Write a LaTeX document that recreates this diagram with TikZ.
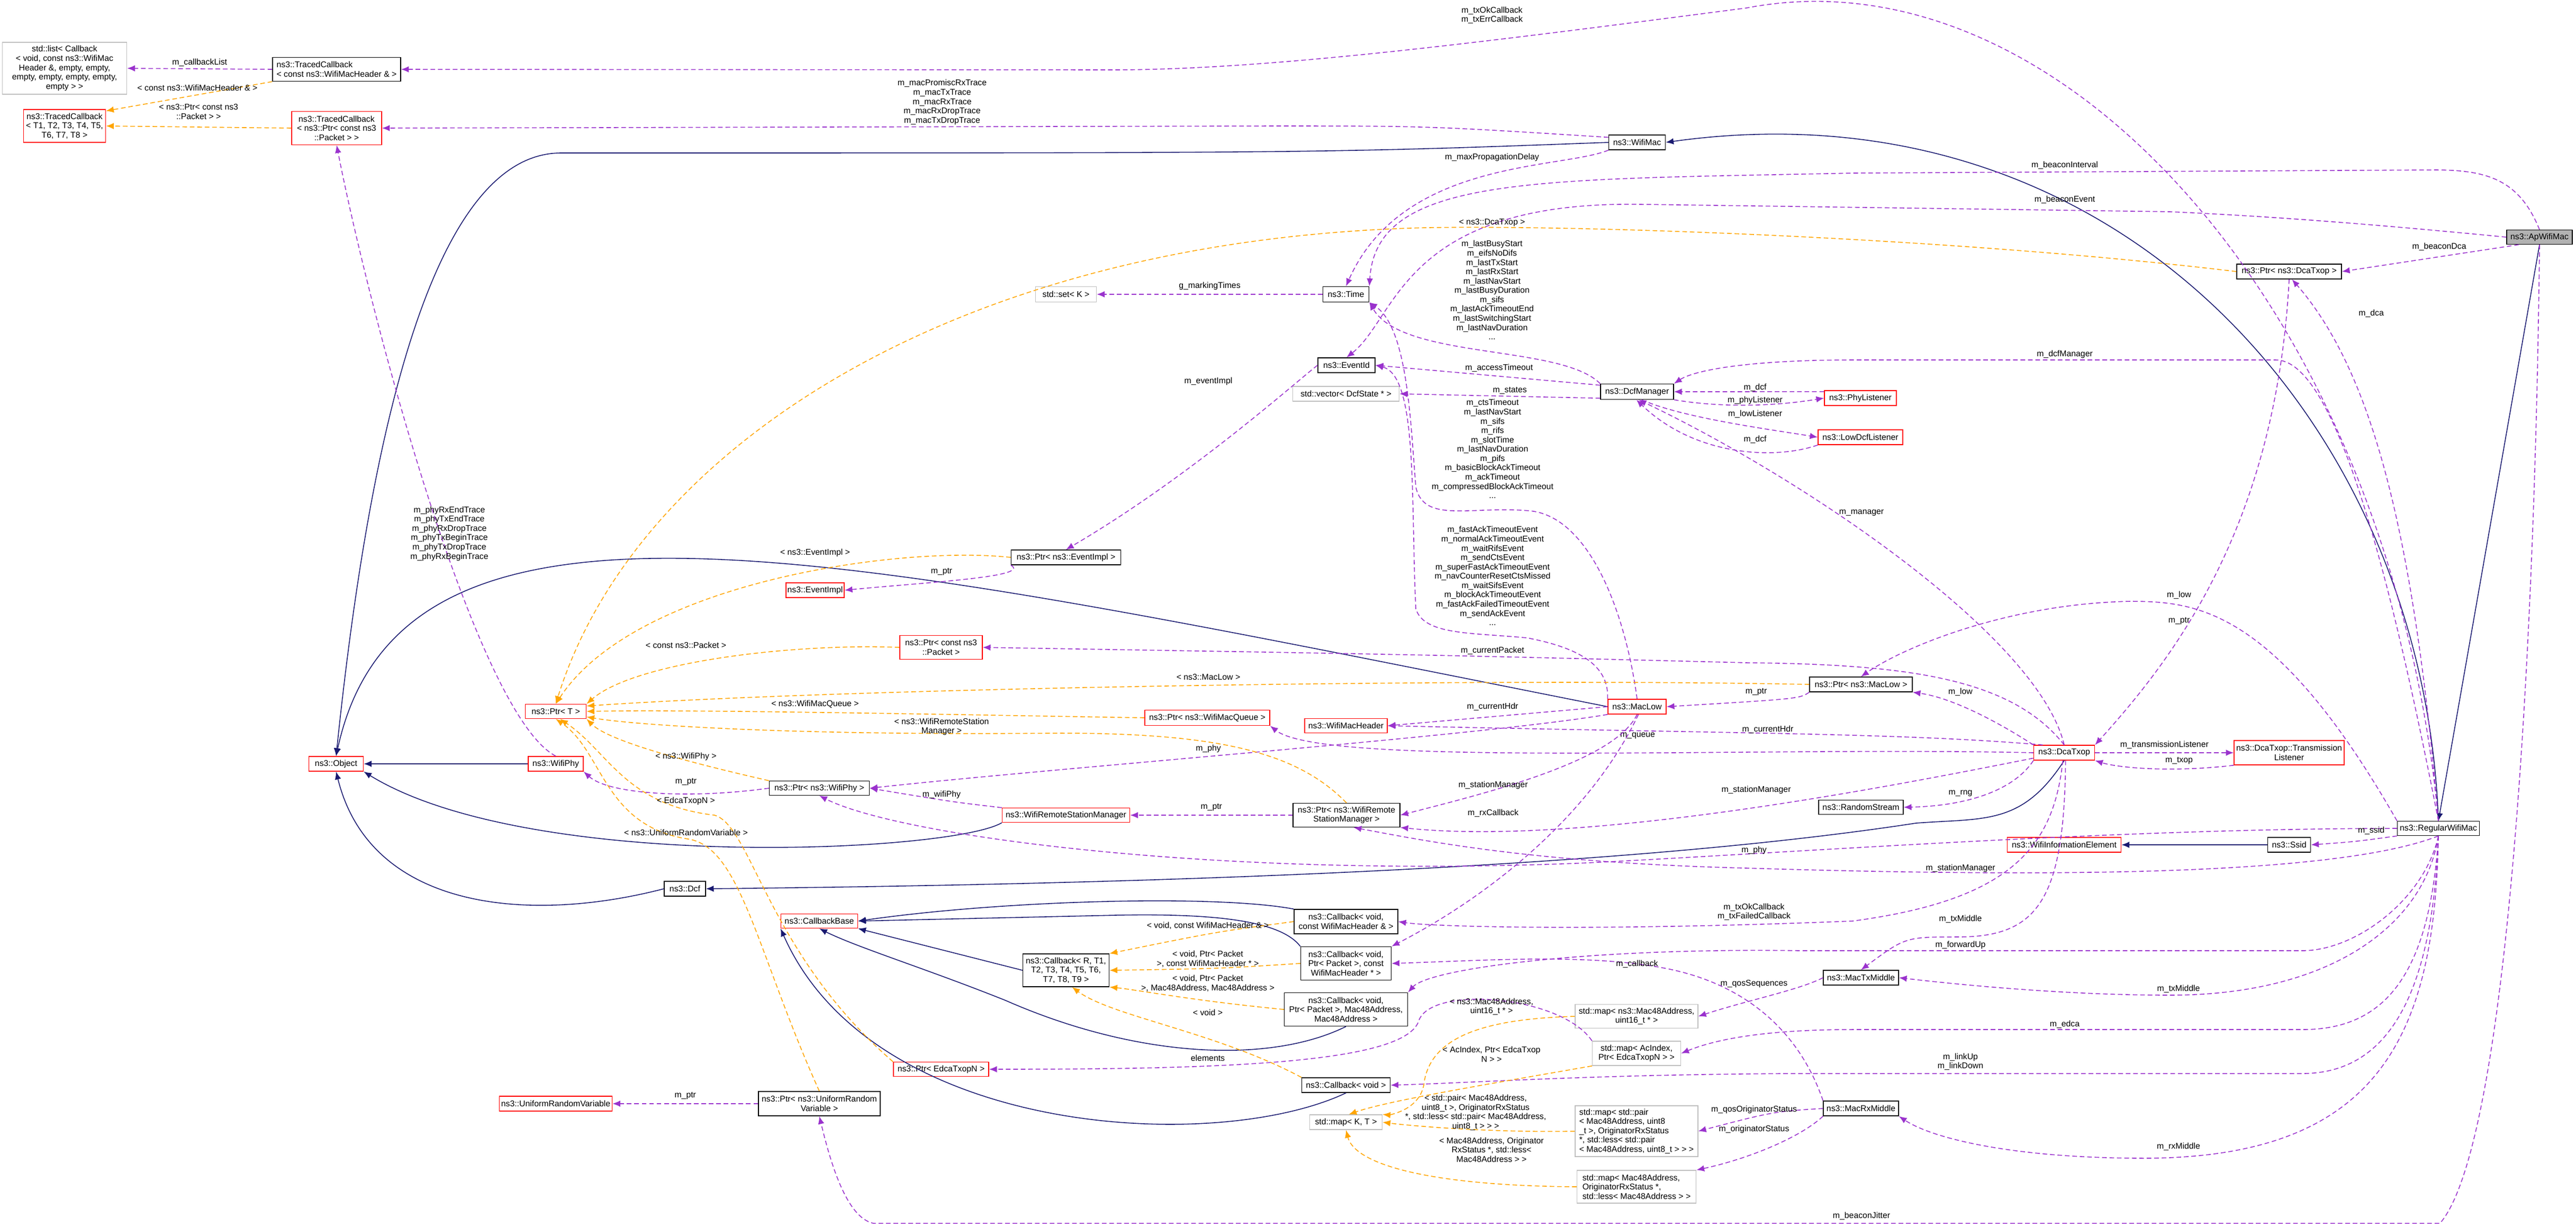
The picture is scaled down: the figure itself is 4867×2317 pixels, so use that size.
\documentclass[tikz,border=0pt]{standalone}
\usepackage{fontspec}
\setmainfont{Liberation Sans}
\usetikzlibrary{arrows.meta}
\definecolor{purp}{HTML}{9A32CD}
\definecolor{navy}{HTML}{191970}
\definecolor{orng}{HTML}{FFA500}
\definecolor{gbord}{HTML}{BFBFBF}
\tikzset{
  sz/.style 2 args={minimum width=#1*0.01cm, minimum height=#2*0.01cm},
  box/.style={draw=black, fill=white, inner sep=0.5pt, align=center, line width=0.4pt},
  rbox/.style={box, draw=red},
  gbox/.style={box, draw=gbord},
  lbl/.style={inner sep=0pt, align=center},
  use/.style={draw=purp, line width=0.45pt, dash pattern=on 2.5pt off 1.5pt, -{Latex[length=4.2pt,width=3.4pt]}},
  tmpl/.style={draw=orng, line width=0.45pt, dash pattern=on 2.5pt off 1.5pt, -{Latex[length=4.2pt,width=3.4pt]}},
  inh/.style={draw=navy, line width=0.45pt, -{Latex[length=4.2pt,width=3.4pt]}}}
\begin{document}
\begin{tikzpicture}[x=0.01cm,y=-0.01cm,
  every node/.style={font=\fontsize{4.5}{5.0}\selectfont}]
\useasboundingbox (0,0) rectangle (4867,2317);
% nodes
\node[gbox,sz={235}{98}] (stdlist) at (122,129) {std::list< Callback\\< void, const ns3::WifiMac\\Header \&, empty, empty,\\empty, empty, empty, empty,\\empty > >};
\node[box,sz={242}{45},align=left] (TCwmh) at (636,131) {ns3::TracedCallback\\< const ns3::WifiMacHeader \& >};
\node[rbox,sz={155}{62}] (TCgen) at (122,238) {ns3::TracedCallback\\< T1, T2, T3, T4, T5,\\T6, T7, T8 >};
\node[rbox,sz={170}{63}] (TCpkt) at (636,242) {ns3::TracedCallback\\< ns3::Ptr< const ns3\\::Packet > >};
\node[box,sz={107}{28}] (WifiMac) at (3093,269) {ns3::WifiMac};
\node[box,sz={124}{27},fill=gray!60] (Ap) at (4798,448) {ns3::ApWifiMac};
\node[box,sz={198}{28}] (PtrDca) at (4325,513) {ns3::Ptr< ns3::DcaTxop >};
\node[gbox,sz={115}{29}] (stdset) at (2014,556) {std::set< K >};
\node[box,sz={87}{29}] (Time) at (2543,556) {ns3::Time};
\node[box,sz={108}{28}] (EventId) at (2544,690) {ns3::EventId};
\node[gbox,sz={201}{28}] (stdvec) at (2543,744) {std::vector< DcfState * >};
\node[box,sz={138}{29}] (Dcfm) at (3093,740) {ns3::DcfManager};
\node[rbox,sz={136}{28}] (PhyL) at (3515,752) {ns3::PhyListener};
\node[rbox,sz={160}{28}] (LowL) at (3515,826) {ns3::LowDcfListener};
\node[box,sz={207}{28}] (PtrEI) at (2014,1053) {ns3::Ptr< ns3::EventImpl >};
\node[rbox,sz={110}{28}] (EI) at (1540,1115) {ns3::EventImpl};
\node[rbox,sz={156}{45}] (PtrCP) at (1778,1223) {ns3::Ptr< const ns3\\::Packet >};
\node[box,sz={194}{28}] (PtrML) at (3516,1293) {ns3::Ptr< ns3::MacLow >};
\node[rbox,sz={110}{28}] (MacLow) at (3093,1335) {ns3::MacLow};
\node[rbox,sz={115}{27}] (PtrT) at (1050,1344) {ns3::Ptr< T >};
\node[rbox,sz={236}{29}] (PtrQ) at (2281,1356) {ns3::Ptr< ns3::WifiMacQueue >};
\node[rbox,sz={156}{27}] (Hdr) at (2543,1371) {ns3::WifiMacHeader};
\node[rbox,sz={115}{28}] (Dca) at (3900,1422) {ns3::DcaTxop};
\node[rbox,sz={208}{46}] (DcaTL) at (4325,1422) {ns3::DcaTxop::Transmission\\Listener};
\node[rbox,sz={103}{28}] (Obj) at (635,1443) {ns3::Object};
\node[rbox,sz={104}{28}] (Phy) at (1050,1443) {ns3::WifiPhy};
\node[box,sz={189}{27}] (PtrPhy) at (1548,1489) {ns3::Ptr< ns3::WifiPhy >};
\node[box,sz={160}{27}] (RS) at (3516,1525) {ns3::RandomStream};
\node[rbox,sz={241}{27}] (WRSM) at (2014,1540) {ns3::WifiRemoteStationManager};
\node[box,sz={202}{45}] (PtrWRSM) at (2544,1540) {ns3::Ptr< ns3::WifiRemote\\StationManager >};
\node[box,sz={155}{27}] (Reg) at (4607,1565) {ns3::RegularWifiMac};
\node[rbox,sz={215}{28}] (WIE) at (3900,1596) {ns3::WifiInformationElement};
\node[box,sz={81}{28}] (Ssid) at (4325,1596) {ns3::Ssid};
\node[box,sz={78}{28}] (Dcf) at (1294,1679) {ns3::Dcf};
\node[rbox,sz={145}{27}] (CB) at (1548,1740) {ns3::CallbackBase};
\node[box,sz={196}{46}] (CbWmh) at (2543,1741) {ns3::Callback< void,\\const WifiMacHeader \& >};
\node[box,sz={171}{63}] (CbPkt) at (2543,1820) {ns3::Callback< void,\\Ptr< Packet >, const\\WifiMacHeader * >};
\node[box,sz={163}{62}] (CbR) at (2014,1833) {ns3::Callback< R, T1,\\T2, T3, T4, T5, T6,\\T7, T8, T9 >};
\node[box,sz={142}{28}] (TxM) at (3516,1847) {ns3::MacTxMiddle};
\node[box,sz={233}{63}] (CbMac) at (2543,1907) {ns3::Callback< void,\\Ptr< Packet >, Mac48Address,\\Mac48Address >};
\node[gbox,sz={232}{45}] (mapU) at (3092,1920) {std::map< ns3::Mac48Address,\\uint16\_t * >};
\node[gbox,sz={167}{46}] (mapAc) at (3092,1990) {std::map< AcIndex,\\Ptr< EdcaTxopN > >};
\node[rbox,sz={180}{27}] (PtrE) at (1778,2020) {ns3::Ptr< EdcaTxopN >};
\node[box,sz={167}{28}] (CbV) at (2543,2050) {ns3::Callback< void >};
\node[box,sz={230}{46}] (PtrURV) at (1548,2085) {ns3::Ptr< ns3::UniformRandom\\Variable >};
\node[rbox,sz={213}{28}] (URV) at (1050,2085) {ns3::UniformRandomVariable};
\node[box,sz={142}{28}] (RxM) at (3516,2094) {ns3::MacRxMiddle};
\node[gbox,sz={137}{28}] (mapKT) at (2543,2120) {std::map< K, T >};
\node[gbox,sz={232}{96},align=left] (mapP) at (3092,2137) {std::map< std::pair\\< Mac48Address, uint8\\\_t >, OriginatorRxStatus\\*, std::less< std::pair\\< Mac48Address, uint8\_t > > >};
\node[gbox,sz={225}{62},align=left] (mapO) at (3092,2242) {std::map< Mac48Address,\\OriginatorRxStatus *,\\std::less< Mac48Address > >};
% inheritance
\draw[inh] (WifiMac.west) .. controls (2500,289) .. (1060,289) .. controls (800,289) and (690,900) .. (Obj.north);
\draw[inh] (Reg.north) .. controls (4580,800) and (4000,150) .. (WifiMac.east);
\draw[inh] (Ap.south) -- (Reg.north);
\draw[inh] (Phy.west) -- (Obj.east);
\draw[inh] (WRSM.south west) .. controls (1800,1610) and (1000,1650) .. (Obj.south east);
\draw[inh] (MacLow.west) .. controls (1600,1050) and (760,850) .. (Obj.north);
\draw[inh] (Dcf.west) .. controls (1000,1745) and (700,1720) .. (Obj.south);
\draw[inh] (Dca.south) .. controls (3820,1560) and (3750,1545) .. (3620,1555) .. controls (3000,1650) and (2000,1672) .. (Dcf.east);
\draw[inh] (Ssid.west) -- (WIE.east);
\draw[inh] (CbWmh.north west) .. controls (2300,1690) and (1900,1700) .. (CB.east);
\draw[inh] (CbPkt.north west) .. controls (2420,1740) and (2300,1725) .. (2106,1729) -- (CB.east);
\draw[inh] (CbR.west) -- (CB.south east);
\draw[inh] (CbMac.south) .. controls (2400,2010) and (2150,2000) .. (1900,1890) .. controls (1750,1830) and (1620,1790) .. (CB.south);
\draw[inh] (CbV.south) .. controls (2300,2180) and (1650,2150) .. (CB.south west);
% usage top
\draw[use] (TCwmh.west) -- node[lbl,above=1pt]{m\_callbackList} (stdlist.east);
\draw[tmpl] (TCwmh.south west) -- node[lbl,above=2pt,pos=0.45]{< const ns3::WifiMacHeader \& >} (TCgen.20);
\draw[tmpl] (TCpkt.west) -- node[lbl,above=4pt]{< ns3::Ptr< const ns3\\::Packet > >} (TCgen.east);
\draw[use] (Reg.north) .. controls (4520,600) and (3900,-100) .. (3300,15) .. controls (2800,80) and (2400,132) .. (2100,132) -- (TCwmh.east);
\node[lbl] at (2819,29) {m\_txOkCallback\\m\_txErrCallback};
\draw[use] (WifiMac.170) .. controls (2700,238) .. (2400,238) -- (TCpkt.east);
\node[lbl] at (1780,193) {m\_macPromiscRxTrace\\m\_macTxTrace\\m\_macRxTrace\\m\_macRxDropTrace\\m\_macTxDropTrace};
\draw[use] (Phy.north) .. controls (900,1350) and (700,600) .. (TCpkt.south);
\node[lbl] at (849,1008) {m\_phyRxEndTrace\\m\_phyTxEndTrace\\m\_phyRxDropTrace\\m\_phyTxBeginTrace\\m\_phyTxDropTrace\\m\_phyRxBeginTrace};
\draw[use] (WifiMac.south west) .. controls (2950,320) and (2650,300) .. (Time.north);
\node[lbl] at (2819,297) {m\_maxPropagationDelay};
\draw[use] (Ap.north) .. controls (4760,340) and (4700,321) .. (4600,321) -- (3500,327) .. controls (2900,340) and (2600,330) .. (Time.north east);
\node[lbl] at (3901,312) {m\_beaconInterval};
\draw[use] (Ap.west) .. controls (4500,425) and (4300,409) .. (4100,400) -- (3100,386) .. controls (2650,379) and (2640,600) .. (EventId.north);
\node[lbl] at (3901,377) {m\_beaconEvent};
\draw[use] (Ap.200) -- node[lbl,above=3pt,pos=0.45]{m\_beaconDca} (PtrDca.east);
\draw[tmpl] (PtrDca.west) .. controls (3700,450) and (3000,425) .. (2700,430) .. controls (1800,450) and (1200,850) .. (PtrT.north);
\node[lbl] at (2819,421) {< ns3::DcaTxop >};
\draw[use] (Reg.north) .. controls (4560,1000) and (4480,700) .. (PtrDca.-70);
\node[lbl] at (4480,592) {m\_dca};
\draw[use] (PtrDca.south) .. controls (4300,1000) and (4100,1250) .. (Dca.north east);
\node[lbl] at (4117,1173) {m\_ptr};
\draw[use] (Time.west) -- node[lbl,above=2pt]{g\_markingTimes} (stdset.east);
\draw[use] (Dcfm.north west) .. controls (2950,650) and (2650,680) .. (Time.south east);
\node[lbl] at (2819,548) {m\_lastBusyStart\\m\_eifsNoDifs\\m\_lastTxStart\\m\_lastRxStart\\m\_lastNavStart\\m\_lastBusyDuration\\m\_sifs\\m\_lastAckTimeoutEnd\\m\_lastSwitchingStart\\m\_lastNavDuration\\...};
\draw[use] (Dcfm.170) -- node[lbl,above=2pt,pos=0.45]{m\_accessTimeout} (EventId.east);
\draw[use] (Dcfm.190) -- node[lbl,above=1pt,pos=0.45]{m\_states} (stdvec.east);
\draw[use] (MacLow.north) .. controls (3070,1150) and (3000,975) .. (2890,965) .. controls (2780,955) and (2690,990) .. (2675,920) .. controls (2665,800) and (2660,620) .. (Time.south east);
\node[lbl] at (2820,848) {m\_ctsTimeout\\m\_lastNavStart\\m\_sifs\\m\_rifs\\m\_slotTime\\m\_lastNavDuration\\m\_pifs\\m\_basicBlockAckTimeout\\m\_ackTimeout\\m\_compressedBlockAckTimeout\\...};
\draw[use] (MacLow.north west) .. controls (3040,1260) and (2990,1225) .. (2885,1205) .. controls (2780,1195) and (2690,1200) .. (2675,1150) .. controls (2665,950) and (2680,710) .. (EventId.east);
\node[lbl] at (2820,1088) {m\_fastAckTimeoutEvent\\m\_normalAckTimeoutEvent\\m\_waitRifsEvent\\m\_sendCtsEvent\\m\_superFastAckTimeoutEvent\\m\_navCounterResetCtsMissed\\m\_waitSifsEvent\\m\_blockAckTimeoutEvent\\m\_fastAckFailedTimeoutEvent\\m\_sendAckEvent\\...};
\draw[use] (EventId.west) .. controls (2450,720) and (2250,900) .. (PtrEI.north);
\node[lbl] at (2283,720) {m\_eventImpl};
\draw[use] (PtrEI.south west) .. controls (1950,1090) and (1750,1100) .. (EI.east);
\node[lbl] at (1779,1080) {m\_ptr};
\draw[tmpl] (PtrEI.west) .. controls (1700,1030) and (1200,1100) .. (PtrT.north);
\node[lbl] at (1540,1044) {< ns3::EventImpl >};
\draw[use] (Reg.north) .. controls (4500,1000) and (4400,680) .. (4300,680) -- (3500,680) .. controls (3300,680) and (3200,700) .. (Dcfm.north east);
\node[lbl] at (3901,669) {m\_dcfManager};
\draw[use] (PhyL.170) -- (Dcfm.east);
\node[lbl] at (3316,732) {m\_dcf};
\draw[use] (Dcfm.south east) .. controls (3250,770) and (3350,768) .. (PhyL.west);
\node[lbl] at (3316,756) {m\_phyListener};
\draw[use] (Dcfm.-60) .. controls (3180,790) and (3350,812) .. (LowL.west);
\node[lbl] at (3316,782) {m\_lowListener};
\draw[use] (LowL.south west) .. controls (3350,870) and (3200,860) .. (Dcfm.-95);
\node[lbl] at (3316,830) {m\_dcf};
\draw[use] (Dca.north) .. controls (3850,1200) and (3400,900) .. (Dcfm.-80);
\node[lbl] at (3517,969) {m\_manager};
\draw[use] (Reg.north west) .. controls (4300,1150) and (4150,1136) .. (4025,1136) .. controls (3800,1140) and (3600,1220) .. (PtrML.north);
\node[lbl] at (4117,1124) {m\_low};
\draw[use] (Dca.north west) .. controls (3800,1380) and (3700,1320) .. (PtrML.south east);
\node[lbl] at (3704,1307) {m\_low};
\draw[use] (PtrML.south west) .. controls (3400,1320) .. (MacLow.east);
\node[lbl] at (3318,1307) {m\_ptr};
\draw[tmpl] (PtrML.west) .. controls (2800,1280) and (1600,1300) .. (PtrT.10);
\node[lbl] at (2283,1279) {< ns3::MacLow >};
\draw[use] (Dca.north) .. controls (3800,1280) and (3600,1255) .. (3300,1252) .. controls (2700,1237) .. (PtrCP.east);
\node[lbl] at (2820,1229) {m\_currentPacket};
\draw[tmpl] (PtrCP.west) .. controls (1500,1215) and (1200,1250) .. (PtrT.north east);
\node[lbl] at (1296,1219) {< const ns3::Packet >};
\draw[use] (MacLow.west) -- (Hdr.east);
\node[lbl] at (2820,1335) {m\_currentHdr};
\draw[use] (Dca.160) .. controls (3600,1385) and (3300,1386) .. (Hdr.east);
\node[lbl] at (3340,1378) {m\_currentHdr};
\draw[use] (Dca.west) .. controls (3300,1410) and (2500,1450) .. (PtrQ.south east);
\node[lbl] at (3094,1390) {m\_queue};
\draw[tmpl] (PtrQ.west) .. controls (1800,1350) and (1300,1340) .. (PtrT.east);
\node[lbl] at (1540,1330) {< ns3::WifiMacQueue >};
\draw[use] (MacLow.south west) .. controls (2800,1390) and (2000,1450) .. (PtrPhy.east);
\node[lbl] at (2283,1414) {m\_phy};
\draw[use] (Reg.west) .. controls (4000,1565) and (3400,1610) .. (3000,1630) .. controls (2300,1660) and (1700,1580) .. (PtrPhy.south);
\node[lbl] at (3314,1606) {m\_phy};
\draw[tmpl] (PtrPhy.north west) .. controls (1300,1440) and (1150,1400) .. (PtrT.south east);
\node[lbl] at (1296,1429) {< ns3::WifiPhy >};
\draw[use] (PtrPhy.west) .. controls (1300,1510) and (1150,1500) .. (Phy.south east);
\node[lbl] at (1296,1477) {m\_ptr};
\draw[use] (WRSM.north west) .. controls (1800,1515) .. (PtrPhy.east);
\node[lbl] at (1779,1501) {m\_wifiPhy};
\draw[use] (PtrWRSM.west) -- node[lbl,above=2pt]{m\_ptr} (WRSM.east);
\draw[tmpl] (PtrWRSM.north) .. controls (2450,1420) and (2300,1385) .. (2000,1385) .. controls (1500,1390) and (1200,1370) .. (PtrT.-10);
\node[lbl] at (1779,1373) {< ns3::WifiRemoteStation\\Manager >};
\draw[use] (MacLow.south) .. controls (3050,1440) and (2800,1500) .. (PtrWRSM.east);
\node[lbl] at (2821,1483) {m\_stationManager};
\draw[use] (Dca.-170) .. controls (3600,1480) and (3000,1600) .. (PtrWRSM.south east);
\node[lbl] at (3318,1492) {m\_stationManager};
\draw[use] (Reg.south) .. controls (4400,1660) and (3800,1655) .. (3300,1640) .. controls (2900,1630) and (2700,1590) .. (PtrWRSM.-60);
\node[lbl] at (3704,1640) {m\_stationManager};
\draw[use] (MacLow.-80) .. controls (3000,1550) and (2800,1700) .. (CbPkt.north east);
\node[lbl] at (2821,1536) {m\_rxCallback};
\draw[use] (Dca.south west) .. controls (3800,1500) and (3700,1523) .. (RS.east);
\node[lbl] at (3704,1499) {m\_rng};
\draw[use] (Dca.east) -- node[lbl,above=2pt]{m\_transmissionListener} (DcaTL.west);
\draw[use] (DcaTL.south west) .. controls (4100,1460) and (4000,1450) .. (Dca.south east);
\node[lbl] at (4117,1437) {m\_txop};
\draw[use] (Dca.-100) .. controls (3880,1600) and (3800,1700) .. (3500,1740) .. controls (3000,1760) and (2700,1750) .. (CbWmh.east);
\node[lbl] at (3314,1723) {m\_txOkCallback\\m\_txFailedCallback};
\draw[use] (Dca.-80) .. controls (3900,1700) and (3850,1770) .. (3700,1770) .. controls (3600,1770) .. (TxM.north);
\node[lbl] at (3704,1736) {m\_txMiddle};
\draw[use] (Reg.south) .. controls (4580,1700) and (4450,1796) .. (4350,1796) -- (3400,1796) .. controls (3000,1790) and (2700,1830) .. (CbMac.north east);
\node[lbl] at (3704,1785) {m\_forwardUp};
\draw[use] (Reg.south) .. controls (4580,1750) and (4400,1880) .. (4100,1880) .. controls (3900,1880) and (3700,1860) .. (TxM.east);
\node[lbl] at (4116,1868) {m\_txMiddle};
\draw[use] (Reg.south) .. controls (4590,1850) and (4500,1945) .. (4350,1945) -- (3500,1945) .. controls (3350,1945) and (3250,1960) .. (mapAc.east);
\node[lbl] at (3901,1935) {m\_edca};
\draw[use] (Reg.south) .. controls (4595,1900) and (4500,2028) .. (4350,2028) -- (3400,2028) .. controls (3000,2030) and (2800,2045) .. (CbV.east);
\node[lbl] at (3704,2006) {m\_linkUp\\m\_linkDown};
\draw[use] (Reg.south) .. controls (4600,1950) and (4500,2188) .. (4050,2188) .. controls (3800,2188) and (3650,2150) .. (RxM.south east);
\node[lbl] at (4116,2166) {m\_rxMiddle};
\draw[use] (Ap.south) .. controls (4790,1200) and (4740,2160) .. (4610,2311) -- (1650,2311) .. controls (1600,2300) and (1570,2200) .. (PtrURV.south);
\node[lbl] at (3517,2297) {m\_beaconJitter};
\draw[use] (TxM.west) .. controls (3400,1870) and (3300,1890) .. (mapU.east);
\node[lbl] at (3314,1859) {m\_qosSequences};
\draw[use] (RxM.north west) .. controls (3400,1950) and (3300,1860) .. (3150,1830) .. controls (3000,1800) and (2800,1815) .. (CbPkt.east);
\node[lbl] at (3093,1821) {m\_callback};
\draw[use] (RxM.west) .. controls (3350,2100) .. (mapP.east);
\node[lbl] at (3314,2096) {m\_qosOriginatorStatus};
\draw[use] (RxM.south west) .. controls (3400,2150) and (3300,2190) .. (mapO.north east);
\node[lbl] at (3314,2133) {m\_originatorStatus};
\draw[use] (mapAc.north west) .. controls (2950,1880) and (2700,1860) .. (2680,1930) .. controls (2650,2010) and (2300,2020) .. (PtrE.east);
\node[lbl] at (2282,1999) {elements};
\draw[use] (Reg.south west) .. controls (4450,1590) .. (Ssid.east);
\node[lbl] at (4480,1569) {m\_ssid};
\draw[use] (PtrURV.west) -- node[lbl,above=2pt]{m\_ptr} (URV.east);
% template std::map
\draw[tmpl] (mapU.west) .. controls (2800,1925) and (2700,1960) .. (2690,2050) .. controls (2680,2100) and (2620,2106) .. (mapKT.north east);
\node[lbl] at (2818,1902) {< ns3::Mac48Address,\\uint16\_t * >};
\draw[tmpl] (mapAc.south west) .. controls (2800,2050) and (2620,2080) .. (mapKT.70);
\node[lbl] at (2818,1992) {< AcIndex, Ptr< EdcaTxop\\N > >};
\draw[tmpl] (mapP.west) .. controls (2800,2140) and (2650,2125) .. (mapKT.east);
\node[lbl] at (2788,2102) {< std::pair< Mac48Address,\\uint8\_t >, OriginatorRxStatus\\*, std::less< std::pair< Mac48Address,\\uint8\_t > > >};
\draw[tmpl] (mapO.west) .. controls (2700,2240) and (2560,2200) .. (mapKT.south);
\node[lbl] at (2818,2172) {< Mac48Address, Originator\\RxStatus *, std::less<\\Mac48Address > >};
% template callbacks
\draw[tmpl] (CbWmh.west) .. controls (2300,1760) .. (CbR.north east);
\node[lbl] at (2282,1749) {< void, const WifiMacHeader \& >};
\draw[tmpl] (CbPkt.west) .. controls (2300,1830) .. (CbR.east);
\node[lbl] at (2282,1812) {< void, Ptr< Packet\\>, const WifiMacHeader * >};
\draw[tmpl] (CbMac.west) .. controls (2250,1890) and (2150,1870) .. (CbR.south east);
\node[lbl] at (2282,1858) {< void, Ptr< Packet\\>, Mac48Address, Mac48Address >};
\draw[tmpl] (CbV.north west) .. controls (2300,1950) and (2100,1920) .. (CbR.-70);
\node[lbl] at (2282,1913) {< void >};
\draw[tmpl] (PtrE.north west) .. controls (1450,1800) and (1420,1560) .. (1350,1540) .. controls (1180,1520) and (1150,1420) .. (PtrT.-60);
\node[lbl] at (1296,1513) {< EdcaTxopN >};
\draw[tmpl] (PtrURV.north) .. controls (1430,1800) and (1400,1600) .. (1300,1585) .. controls (1140,1560) and (1140,1420) .. (PtrT.south);
\node[lbl] at (1296,1573) {< ns3::UniformRandomVariable >};
\end{tikzpicture}
\end{document}
